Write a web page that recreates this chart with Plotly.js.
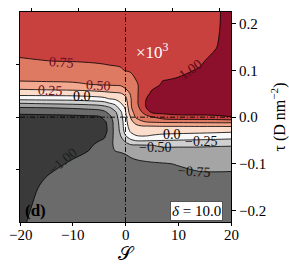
<!DOCTYPE html>
<html><head><meta charset="utf-8">
<script src="https://cdn.plot.ly/plotly-3.0.1.min.js"></script>
<style>html,body{margin:0;padding:0;background:#fff;}#chart{width:289px;height:267px;}</style>
</head><body><div id="chart"></div>
<script>
// grid: S (x) columns, tau (y) rows (top to bottom)
const S = [-20,-15,-10,-7,-5,-4,-3,-2,-1,0,1,2,3,4,5,7,10,14,17,20];
const tau = [0.225,0.19,0.15,0.12,0.10,0.08,0.07,0.06,0.05,0.04,0.03,0.02,0.01,0,-0.01,-0.02,-0.03,-0.04,-0.05,-0.06,-0.08,-0.10,-0.12,-0.15,-0.19,-0.225];
// values (x10^3) read column by column, top to bottom
const c_m20 = [0.9,0.86,0.80,0.733,0.63,0.528,0.425,0.257,0.089,-0.157,-0.493,-0.771,-0.939,-1.1,-1.15,-1.17,-1.18,-1.18,-1.18,-1.17,-1.15,-1.13,-1.1,-1.07,-1.04,-1.02];
const c_m15 = [0.9,0.86,0.80,0.748,0.641,0.535,0.443,0.275,0.096,-0.149,-0.46,-0.754,-0.921,-1.09,-1.14,-1.16,-1.17,-1.17,-1.17,-1.16,-1.13,-1.07,-1.01,-0.97,-0.95,-0.94];
const c_m10 = [0.91,0.87,0.81,0.755,0.653,0.542,0.461,0.293,0.104,-0.138,-0.431,-0.725,-0.904,-1.07,-1.12,-1.14,-1.15,-1.14,-1.12,-1.09,-1.03,-0.97,-0.95,-0.93,-0.92,-0.92];
const c_m7 = [0.92,0.88,0.82,0.763,0.673,0.557,0.496,0.315,0.125,-0.106,-0.40,-0.694,-0.886,-1.05,-1.1,-1.12,-1.12,-1.1,-1.07,-1.03,-0.98,-0.94,-0.93,-0.92,-0.91,-0.91];
const c_m5 = [0.92,0.89,0.83,0.77,0.69,0.571,0.511,0.342,0.146,-0.075,-0.369,-0.663,-0.868,-1.035,-1.07,-1.08,-1.07,-1.05,-1.005,-0.96,-0.93,-0.92,-0.91,-0.9,-0.9,-0.9];
const c_m4 = [0.93,0.89,0.83,0.775,0.699,0.578,0.518,0.358,0.161,-0.044,-0.338,-0.609,-0.816,-0.943,-1.03,-1.05,-1.05,-1.02,-0.98,-0.95,-0.93,-0.92,-0.91,-0.9,-0.9,-0.9];
const c_m3 = [0.93,0.9,0.84,0.78,0.71,0.585,0.523,0.371,0.185,0.024,-0.247,-0.534,-0.681,-0.82,-0.93,-0.94,-0.95,-0.92,-0.88,-0.85,-0.84,-0.86,-0.88,-0.89,-0.9,-0.9];
const c_m2 = [0.94,0.9,0.845,0.78,0.72,0.593,0.53,0.388,0.199,0.048,-0.186,-0.386,-0.56,-0.62,-0.64,-0.65,-0.655,-0.66,-0.665,-0.69,-0.79,-0.84,-0.87,-0.885,-0.9,-0.9];
const c_m1 = [0.94,0.9,0.85,0.78,0.732,0.60,0.535,0.40,0.2175,0.10,-0.022,-0.173,-0.33,-0.386,-0.43,-0.452,-0.47,-0.52,-0.576,-0.65,-0.78,-0.83,-0.86,-0.88,-0.89,-0.9];
const c_0 = [0.95,0.91,0.86,0.79,0.755,0.63,0.563,0.49,0.304,0.197,0.122,0.03,-0.02,-0.056,-0.086,-0.108,-0.155,-0.263,-0.462,-0.572,-0.752,-0.81,-0.85,-0.875,-0.89,-0.9];
const c_1 = [0.96,0.92,0.87,0.80,0.765,0.70,0.64,0.592,0.533,0.487,0.479,0.469,0.398,0.27,0.189,0.113,0.037,-0.097,-0.301,-0.526,-0.728,-0.795,-0.83,-0.865,-0.885,-0.895];
const c_2 = [0.96,0.93,0.88,0.82,0.785,0.752,0.715,0.70,0.697,0.6875,0.686,0.646,0.60,0.538,0.332,0.187,0.091,-0.01,-0.236,-0.516,-0.708,-0.785,-0.82,-0.86,-0.88,-0.89];
const c_3 = [0.97,0.94,0.9,0.86,0.84,0.81,0.807,0.821,0.837,0.854,0.865,0.82,0.727,0.607,0.466,0.217,0.115,0.013,-0.228,-0.509,-0.69,-0.78,-0.81,-0.85,-0.875,-0.885];
const c_4 = [0.97,0.945,0.915,0.89,0.87,0.875,0.884,0.923,0.954,1.005,1.04,1.015,0.856,0.681,0.511,0.222,0.113,0.005,-0.234,-0.502,-0.675,-0.775,-0.805,-0.845,-0.87,-0.88];
const c_5 = [0.975,0.95,0.93,0.91,0.90,0.913,0.94,0.99,1.04,1.07,1.08,1.06,1.015,0.725,0.527,0.227,0.109,-0.019,-0.24,-0.501,-0.662,-0.77,-0.8,-0.84,-0.865,-0.875];
const c_7 = [0.98,0.96,0.945,0.935,0.94,0.995,1.015,1.07,1.09,1.1,1.1,1.08,1.05,0.87,0.545,0.238,0.098,-0.058,-0.252,-0.464,-0.638,-0.762,-0.79,-0.83,-0.86,-0.87];
const c_10 = [0.985,0.975,0.96,0.955,0.975,1.01,1.06,1.09,1.11,1.12,1.12,1.1,1.07,0.93,0.55,0.24,0.088,-0.079,-0.267,-0.47,-0.616,-0.742,-0.78,-0.82,-0.85,-0.865];
const c_14 = [0.99,0.985,0.975,0.98,1.01,1.06,1.09,1.11,1.13,1.13,1.13,1.11,1.08,0.93,0.559,0.246,0.074,-0.1,-0.279,-0.475,-0.601,-0.71,-0.76,-0.8,-0.84,-0.86];
const c_17 = [0.98,0.975,0.99,1.04,1.07,1.1,1.12,1.13,1.14,1.14,1.14,1.12,1.09,0.94,0.565,0.245,0.06,-0.116,-0.291,-0.484,-0.594,-0.692,-0.76,-0.8,-0.835,-0.855];
const c_20 = [1.04,1.06,1.08,1.1,1.11,1.12,1.13,1.14,1.14,1.14,1.14,1.13,1.1,0.99,0.567,0.248,0.041,-0.136,-0.308,-0.489,-0.589,-0.681,-0.765,-0.8,-0.83,-0.85];

const levels = {start:-1, end:1, size:0.25};
const bandColors = ['#3a3a3a','#6b6b6b','#a5a5a5','#d0d0d0','#f8f8f8','#fcdccb','#f3a98f','#df7a62','#c8413f','#8c0f2b'];

const xTicks = [-20,-10,0,10,20];
const xTickText = ['−20','−10','0','10','20'];
const yTicks = [-0.2,-0.1,0,0.1,0.2];
const yTickText = ['−0.2','−0.1','0.0','0.1','0.2'];
const topTicks = [-17.8,-8.9,0,8.9,17.8];
const leftTicks = [-0.112,0,0.112];

const labelText = ['0.75','0.50','0.25','0.0','1.00','−1.00','0.0','−0.25','−0.50','−0.75'];
const labelS = [-12.1,-5.2,-14.2,-8.3,12.3,-11.9,8.9,14.3,5.6,12.9];
const labelTau = [0.118,0.0668,0.058,0.044,0.103,-0.096,-0.038,-0.053,-0.066,-0.117];
const labelAngle = [4,3,2,0,-35,-40,0,0,0,3];
const labelColor = ['#6d0b22','#6d0b22','#6d0b22','#000','#5a0a1d','#1e1e1e','#000','#111','#111','#111'];

const cols = [c_m20,c_m15,c_m10,c_m7,c_m5,c_m4,c_m3,c_m2,c_m1,c_0,c_1,c_2,c_3,c_4,c_5,c_7,c_10,c_14,c_17,c_20];
const yAsc = tau.slice().reverse();
const z = yAsc.map((_, k) => { const i = tau.length - 1 - k; return cols.map(c => c[i]); });

const yr = [-0.2245, 0.2252];
const serif = 'Liberation Serif, DejaVu Serif, serif';

const traces = [
  {type:'contour', x:S, y:yAsc, z:z, autocontour:false,
   contours:{start:levels.start, end:levels.end, size:levels.size, coloring:'fill', showlines:true},
   line:{color:'#000', width:0.8},
   colorscale: bandColors.map((c,i)=>[i/(bandColors.length-1), c]),
   showscale:false, hoverinfo:'skip'},
  {type:'scatter', x:[], y:[], xaxis:'x2', yaxis:'y2', showlegend:false}
];

const annotations = labelText.map((t,i)=>({x:labelS[i], y:labelTau[i], xref:'x', yref:'y', text:t, showarrow:false,
  textangle:labelAngle[i], borderpad:0, font:{family:serif, size:14, color:labelColor[i]}}));
// x tick labels placed just under the axis
xTicks.forEach((v,i)=>annotations.push({x:v, xref:'x', y:0, yref:'paper', yanchor:'top', yshift:-3, text:xTickText[i],
  showarrow:false, font:{family:serif, size:15, color:'#000'}}));
annotations.push({xref:'paper', yref:'paper', x:0.626, y:0.876, text:'×10<sup>3</sup>', showarrow:false, font:{family:serif, size:17, color:'#fff'}});
annotations.push({xref:'paper', yref:'paper', x:0.012, y:0.0, xanchor:'left', yanchor:'bottom', text:'<b>(d)</b>', showarrow:false, font:{family:serif, size:17, color:'#000'}});
annotations.push({xref:'paper', yref:'paper', x:0.963, y:0.004, xanchor:'right', yanchor:'bottom', text:'<i>δ</i> = 10.0', showarrow:false,
  bgcolor:'#fff', bordercolor:'#555', borderwidth:1, borderpad:1, font:{family:serif, size:15, color:'#000'}});

const dd = '5px,2px,1px,2px';
const layout = {
  width:289, height:267, margin:{l:20, r:58, t:12, b:45},
  paper_bgcolor:'#fff', plot_bgcolor:'#fff', showlegend:false,
  font:{family:serif, size:15, color:'#000'},
  xaxis:{range:[-20,20], tickvals:xTicks, showticklabels:false, ticks:'outside', ticklen:3, tickwidth:1, tickcolor:'#000',
         showline:true, linecolor:'#000', linewidth:1, mirror:true, showgrid:false, zeroline:false,
         title:{text:'𝒮', font:{family:serif, size:19}, standoff:21}},
  yaxis:{range:yr, side:'right', tickvals:yTicks, ticktext:yTickText, ticks:'outside', ticklen:4, tickwidth:1, tickcolor:'#000',
         showline:true, linecolor:'#000', linewidth:1, mirror:true, showgrid:false, zeroline:false,
         title:{text:'τ (D nm<sup>−2</sup>)', font:{family:serif, size:16}, standoff:10}},
  xaxis2:{overlaying:'x', side:'top', range:[-20,20], tickvals:topTicks, showticklabels:false, ticks:'outside', ticklen:3,
          tickcolor:'#000', showline:false, showgrid:false, zeroline:false},
  yaxis2:{overlaying:'y', side:'left', range:yr, tickvals:leftTicks, showticklabels:false, ticks:'outside', ticklen:3,
          tickcolor:'#000', showline:false, showgrid:false, zeroline:false},
  shapes:[
    {type:'line', xref:'x', yref:'paper', x0:0, x1:0, y0:0, y1:1, line:{color:'#000', width:0.9, dash:dd}},
    {type:'line', xref:'paper', yref:'y', x0:0, x1:1, y0:0, y1:0, line:{color:'#000', width:0.9, dash:dd}}
  ],
  annotations:annotations
};
Plotly.newPlot('chart', traces, layout, {displayModeBar:false, staticPlot:true});
</script></body></html>
